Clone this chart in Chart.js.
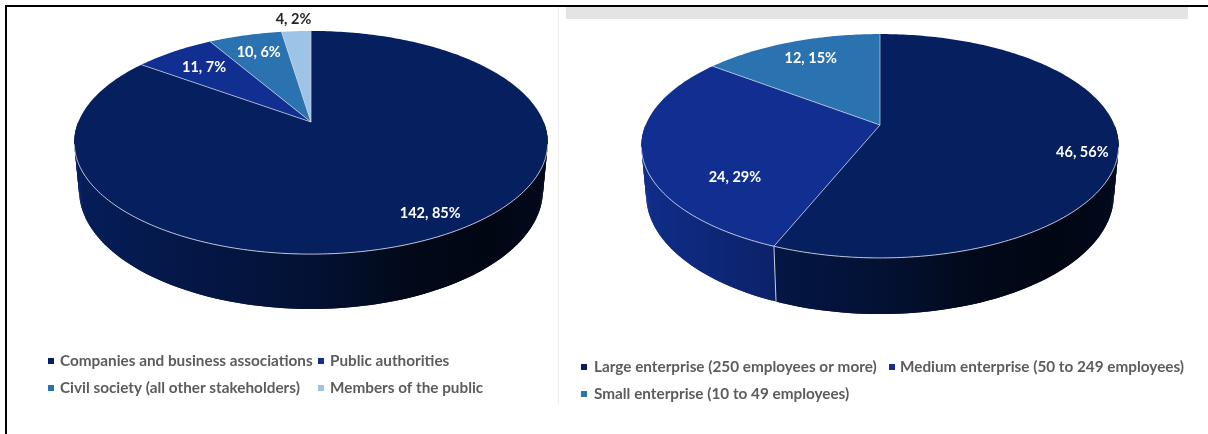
<!DOCTYPE html>
<html>
<head>
<meta charset="utf-8">
<style>
  html, body { margin: 0; padding: 0; background: #fff; width: 1208px; height: 434px; overflow: hidden; }
  #frame-top { position: absolute; left: 5px; top: 5px; width: 1203px; height: 2px; background: #000; }
  #frame-left { position: absolute; left: 5px; top: 5px; width: 2px; height: 429px; background: #000; }
  #band { position: absolute; left: 566px; top: 7px; width: 622px; height: 12px; background: #e4e4e4; }
  #divider { position: absolute; left: 558px; top: 7px; width: 1px; height: 397px; background: #ececec; }
  canvas { position: absolute; top: 0; }
  #left-wrap { position: absolute; left: 0; top: 0; width: 558px; height: 434px; }
  #right-wrap { position: absolute; left: 558px; top: 0; width: 650px; height: 434px; }
</style>
<script src="https://cdn.jsdelivr.net/npm/chart.js@4"></script>
</head>
<body>
<div id="band"></div>
<div id="divider"></div>
<div id="left-wrap"><canvas id="stakeholders" width="558" height="434"></canvas></div>
<div id="right-wrap"><canvas id="enterprises" width="650" height="434"></canvas></div>
<div id="frame-top"></div>
<div id="frame-left"></div>
<script>
// Respondent counts
const stakeholderLabels = ['Companies and business associations', 'Public authorities', 'Civil society (all other stakeholders)', 'Members of the public'];
const stakeholderValues = [142, 11, 10, 4];
const stakeholderColors = ['#061f5e', '#102f90', '#2b72b0', '#9dc3e6'];

const enterpriseLabels = ['Large enterprise (250 employees or more)', 'Medium enterprise (50 to 249 employees)', 'Small enterprise (10 to 49 employees)'];
const enterpriseValues = [46, 24, 12];
const enterpriseColors = ['#061f5e', '#102f90', '#2b72b0'];

const FONT_FAMILY = 'Lato, "Open Sans", sans-serif';

// Darkens a hex colour by a factor
function shade(hex, f) {
  const n = parseInt(hex.slice(1), 16);
  const c = [n >> 16, (n >> 8) & 255, n & 255].map(v => Math.round(v * f));
  return `rgb(${c[0]},${c[1]},${c[2]})`;
}

// Tilted disc: projects chart angles on to a perspective ellipse around the arc centre
function projector(cx, cy, persp, rx, ry) {
  return (angle, r = 1) => {
    const u = Math.cos(angle) * r, v = Math.sin(angle) * r;
    const w = 1 + persp * v;
    return { x: cx + rx * u / w, y: cy + ry * v / w };
  };
}

const SHADE_STOPS = [[0, 0.95], [0.27, 0.72], [0.5, 0.55], [0.7, 0.28], [0.88, 0.2], [1, 0.3]];

const pie3d = {
  id: 'pie3d',
  beforeDatasetDraw(chart, args, opts) {
    const ctx = chart.ctx;
    const arcs = args.meta.data;
    const cx = arcs[0].x, cy = arcs[0].y, R = arcs[0].outerRadius;
    const top = projector(cx, cy, opts.persp, R, opts.topRy);
    const base = projector(cx, cy + opts.baseShift, opts.persp, R * opts.baseScale, opts.baseRy);
    const sample = (a, b) => {
      const n = Math.max(2, Math.ceil(Math.abs(b - a) * 60));
      return Array.from({ length: n + 1 }, (_, i) => a + (b - a) * i / n);
    };

    // side wall: front half of the rim, built from small overlapping quads
    arcs.forEach(arc => {
      const from = Math.max(arc.startAngle, 0), to = Math.min(arc.endAngle, Math.PI);
      if (to <= from) return;
      const angles = sample(from, to);
      const color = arc.options.backgroundColor;
      const g = ctx.createLinearGradient(cx - R, 0, cx + R, 0);
      SHADE_STOPS.forEach(([p, f]) => g.addColorStop(p, shade(color, f)));
      ctx.fillStyle = g;
      for (let i = 0; i + 1 < angles.length; i++) {
        const last = Math.min(i + 2, angles.length - 1);
        const p0 = top(angles[i]), p1 = top(angles[last]);
        const q0 = base(angles[i]), q1 = base(angles[last]);
        ctx.beginPath();
        ctx.moveTo(p0.x, p0.y); ctx.lineTo(p1.x, p1.y);
        ctx.lineTo(q1.x, q1.y); ctx.lineTo(q0.x, q0.y);
        ctx.closePath();
        ctx.fill();
      }
    });

    // seams between slices on the visible front of the wall
    ctx.strokeStyle = 'rgba(225,230,240,0.85)';
    ctx.lineWidth = 1;
    arcs.forEach(arc => {
      if (Math.sin(arc.endAngle) > 0.15) {
        const p = top(arc.endAngle), q = base(arc.endAngle);
        ctx.beginPath(); ctx.moveTo(p.x, p.y); ctx.lineTo(q.x, q.y); ctx.stroke();
      }
    });

    // top faces
    arcs.forEach(arc => {
      ctx.beginPath();
      ctx.moveTo(cx, cy);
      sample(arc.startAngle, arc.endAngle).forEach(a => { const p = top(a); ctx.lineTo(p.x, p.y); });
      ctx.closePath();
      ctx.fillStyle = arc.options.backgroundColor;
      ctx.fill();
    });

    // radial edges between the faces
    ctx.strokeStyle = 'rgba(205,212,228,0.8)';
    ctx.lineWidth = 0.9;
    arcs.forEach(arc => {
      const p = top(arc.endAngle);
      ctx.beginPath(); ctx.moveTo(cx, cy); ctx.lineTo(p.x, p.y); ctx.stroke();
    });

    // light rim along the front edge of the disc
    ctx.strokeStyle = 'rgba(215,220,232,0.85)';
    ctx.lineWidth = 1;
    ctx.beginPath();
    sample(0.2, Math.PI - 0.2).forEach((a, i) => {
      const p = top(a);
      i ? ctx.lineTo(p.x, p.y) : ctx.moveTo(p.x, p.y);
    });
    ctx.stroke();

    // value labels
    ctx.font = `700 ${opts.valueFont}px ${FONT_FAMILY}`;
    ctx.textAlign = 'center';
    ctx.textBaseline = 'middle';
    const values = chart.data.datasets[0].data;
    const total = values.reduce((s, v) => s + v, 0);
    arcs.forEach((arc, i) => {
      const mid = (arc.startAngle + arc.endAngle) / 2;
      const p = top(mid, 0.75);
      const [dx, dy, color] = opts.labelNudge[i];
      ctx.fillStyle = color;
      ctx.fillText(`${values[i]}, ${Math.round(values[i] / total * 100)}%`, p.x + dx, p.y + dy);
    });
    return false;
  },
  afterDraw(chart, args, opts) {
    // two-column legend under the disc
    const ctx = chart.ctx;
    const colors = chart.data.datasets[0].backgroundColor;
    ctx.font = `700 ${opts.legendFont}px ${FONT_FAMILY}`;
    ctx.textAlign = 'left';
    ctx.textBaseline = 'middle';
    chart.data.labels.forEach((label, i) => {
      const col = opts.legendCols[i % 2], y = opts.legendRows[Math.floor(i / 2)];
      ctx.fillStyle = colors[i];
      ctx.fillRect(col.box, y - 3, 6, 6);
      ctx.fillStyle = '#5c5c5c';
      ctx.fillText(label, col.text, y);
    });
  }
};

function pieChart(id, labels, values, colors, radius, padding, plugin3d) {
  return new Chart(document.getElementById(id), {
    type: 'pie',
    data: { labels, datasets: [{ data: values, backgroundColor: colors, borderWidth: 0 }] },
    options: {
      responsive: false,
      animation: false,
      radius,
      layout: { padding },
      plugins: { legend: { display: false }, tooltip: { enabled: false }, pie3d: plugin3d }
    },
    plugins: [pie3d]
  });
}

pieChart('stakeholders', stakeholderLabels, stakeholderValues, stakeholderColors, 232.7,
  { left: 75, right: 11, top: 0, bottom: 190 },
  {
    persp: -0.184, topRy: 107.8, baseRy: 115, baseShift: 46, baseScale: 0.98,
    valueFont: 14.5, legendFont: 15.3,
    labelNudge: [[29, 9, '#ffffff'], [-1, 0, '#ffffff'], [-1, -2, '#ffffff'], [-6, -32, '#262626']],
    legendCols: [{ box: 48, text: 60 }, { box: 318, text: 330 }],
    legendRows: [361, 388]
  });

pieChart('enterprises', enterpriseLabels, enterpriseValues, enterpriseColors, 234.4,
  { left: 0, right: 6, top: 0, bottom: 184 },
  {
    persp: -0.1875, topRy: 108, baseRy: 115, baseShift: 47.5, baseScale: 0.98,
    valueFont: 14.5, legendFont: 15.3,
    labelNudge: [[25, 11, '#ffffff'], [31, 30, '#ffffff'], [0, -2, '#ffffff']],
    legendCols: [{ box: 23, text: 36 }, { box: 331, text: 342 }],
    legendRows: [367, 394]
  });
</script>
</body>
</html>
